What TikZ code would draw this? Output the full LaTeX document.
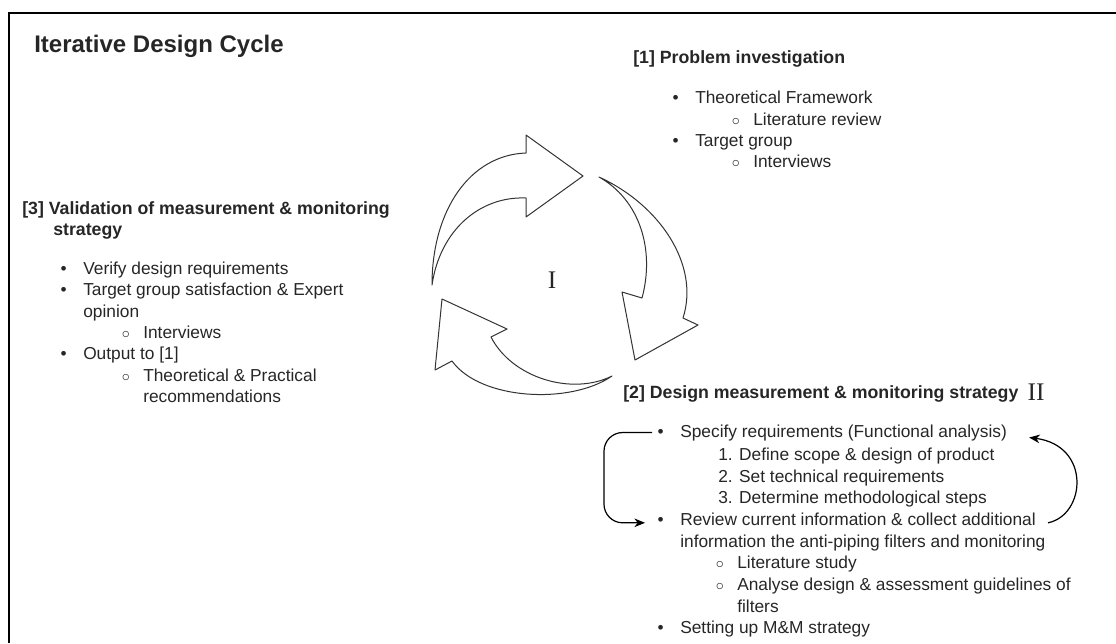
\documentclass[tikz,border=0pt]{standalone}
\usepackage{fontspec}
\setmainfont{Liberation Sans}
\newfontfamily\romfont{Liberation Serif}
\usetikzlibrary{arrows.meta}
\usetikzlibrary{calc}

\newcommand{\bul}{\llap{\textbullet\hspace{12.5pt}}}
\newcommand{\subbul}{\llap{$\circ$\hspace{10pt}}}

\tikzset{
  txt/.style={anchor=base west, inner sep=0pt, text=black!85,
              font=\fontsize{13}{16}\selectfont},
  hdr/.style={txt, font=\fontsize{13.3}{16}\selectfont\bfseries},
  rom/.style={inner sep=0pt, text=black!85, font=\romfont\fontsize{19}{22}\selectfont},
  cyc/.style={draw=black!80, line width=0.75pt, line join=round},
  back/.style={draw=black, line width=0.9pt, -{Stealth[length=8pt,width=6.5pt]}},
}

\begin{document}
\begin{tikzpicture}[x=0.75pt,y=-0.75pt]
	\useasboundingbox (0,0) rectangle (1116,643);
	\draw[line width=1.5pt] (1116,13) -| (9,643);

	\node[txt, font=\fontsize{18}{22}\selectfont\bfseries] (title) at (34,52) {Iterative Design Cycle};

	% [1] problem investigation
	\node[hdr] (inv) at (633,63) {[1] Problem investigation};
	\node[txt] (inv1) at (695,103) {\bul Theoretical Framework};
	\node[txt] (inv2) at (753,125) {\subbul Literature review};
	\node[txt] (inv3) at (695,146) {\bul Target group};
	\node[txt] (inv4) at (753,167) {\subbul Interviews};

	% [2] design
	\node[hdr] (des) at (623,398) {[2] Design measurement \& monitoring strategy};
	\node[txt] (spec) at (680,437) {\bul Specify requirements (Functional analysis)};
	\node[txt] (spec1) at (718,460) {1. Define scope \& design of product};
	\node[txt] (spec2) at (718,482) {2. Set technical requirements};
	\node[txt] (spec3) at (718,503) {3. Determine methodological steps};
	\node[txt] (rev) at (680,525) {\bul Review current information \& collect additional};
	\node[txt] (rev0) at (680,547) {information the anti-piping filters and monitoring};
	\node[txt] (rev1) at (737,568) {\subbul Literature study};
	\node[txt] (rev2) at (737,590) {\subbul Analyse design \& assessment guidelines of};
	\node[txt] (rev3) at (737,612) {filters};
	\node[txt] (mm) at (680,633) {\bul Setting up M\&M strategy};

	% [3] validation
	\node[hdr] (val) at (22,214) {[3] Validation of measurement \& monitoring};
	\node[hdr] (val0) at (53,235) {strategy};
	\node[txt] (val1) at (83,274) {\bul Verify design requirements};
	\node[txt] (val2) at (83,295) {\bul Target group satisfaction \& Expert};
	\node[txt] (val3) at (83,317) {opinion};
	\node[txt] (val4) at (143,338) {\subbul Interviews};
	\node[txt] (val5) at (83,359) {\bul Output to [1]};
	\node[txt] (val6) at (143,381) {\subbul Theoretical \& Practical};
	\node[txt] (val7) at (143,402) {recommendations};

	\node[rom] (one) at (552,280) {I};
	\node[rom] (two) at (1036,392) {II};

	% cycle arrows
	\draw[cyc] (432,285) .. controls (432,210) and (470,155) .. (526,153)
		-- (526,135) -- (583,176) -- (526,217) -- (526,198)
		.. controls (480,196) and (440,230) .. (432,285) -- cycle;
	\draw[cyc] (599,177) .. controls (660,205) and (700,265) .. (683,318)
		-- (698,325) -- (635,360) -- (622,292) -- (642,298)
		.. controls (655,250) and (640,200) .. (599,177) -- cycle;
	\draw[cyc] (612,376) .. controls (570,405) and (480,400) .. (452,361)
		-- (435,370) -- (442,299) -- (507,329) -- (491,337)
		.. controls (512,378) and (572,396) .. (612,376) -- cycle;

	% feedback between the design steps
	\draw[back, rounded corners=14pt] ($(spec.west)+(-28,0)$) -- ++(-48,0) |- ($(rev.west)+(-35,4)$);
	\draw[back] ($(rev.east)+(12,4)$) .. controls +(38,-8) and +(62,8) .. ($(spec.east)+(22,5)$);
\end{tikzpicture}
\end{document}
